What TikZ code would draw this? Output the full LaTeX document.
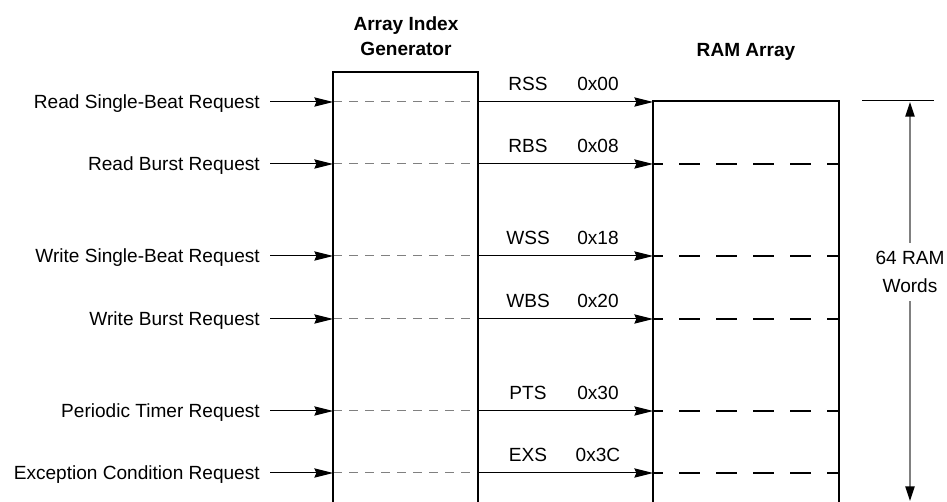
\documentclass[tikz,border=0pt]{standalone}
\usepackage{fontspec}
\setmainfont{Liberation Sans}
\usetikzlibrary{arrows.meta}

\tikzset{
  lbl/.style={inner sep=0.75pt, text height=10.2pt, text depth=0pt, font=\fontsize{14.3}{17}\selectfont},
  ttl/.style={inner sep=0.75pt, align=center, font=\fontsize{14.3}{18.75}\selectfont\bfseries},
  blockline/.style={line width=1.5pt},
  reqarrow/.style={line width=0.75pt, -{Stealth[length=14pt, width=7pt, inset=1.5pt]}},
  aigdash/.style={line width=0.75pt, color={rgb, 255:red, 128; green, 128; blue, 128}, dash pattern=on 6.75pt off 5.25pt},
  ramdash/.style={line width=1.5pt, dash pattern=on 15.75pt off 12pt, dash phase=8.25pt},
  dimline/.style={line width=1.1pt, color={rgb, 255:red, 128; green, 128; blue, 128}, -{Triangle[length=11pt, width=7pt, color=black]}}
}

\begin{document}
\begin{tikzpicture}[x=0.75pt,y=0.75pt,yscale=-1,xscale=1]
\useasboundingbox (0,0) rectangle (947,502);

% Text Node
\node [ttl, anchor=base] (aigtitle) at (406,56) {Array Index\\Generator};
% Text Node
\node [ttl, anchor=base] (ramtitle) at (746,57) {RAM Array};

%Rows
\foreach \i/\y/\req/\abbr/\addr in {1/102/Read Single-Beat Request/RSS/0x00,
    2/164/Read Burst Request/RBS/0x08,
    3/256/Write Single-Beat Request/WSS/0x18,
    4/319/Write Burst Request/WBS/0x20,
    5/411/Periodic Timer Request/PTS/0x30,
    6/473/Exception Condition Request/EXS/0x3C}{
  \coordinate (aigin\i) at (333,\y);
  \coordinate (aigout\i) at (478,\y);
  \coordinate (ramin\i) at (653,\y);
  \coordinate (ramend\i) at (839,\y);
  \node [lbl, anchor=east, inner xsep=7.5pt] (req\i) at (270,\y) {\req};
  \node [lbl, anchor=south] (abbr\i) at (528,\y-10) {\abbr};
  \node [lbl, anchor=south] (addr\i) at (598,\y-10) {\addr};
  \draw [aigdash] (aigin\i) -- (aigout\i);
  \ifnum\i>1 \draw [ramdash] (ramin\i) -- (ramend\i); \fi
  \draw [reqarrow] (req\i.east) -- (aigin\i);
  \draw [reqarrow] (aigout\i) -- (ramin\i);
}

%Shape: Blocks
\draw [blockline] (333,503) -- (333,72) -- (478,72) -- (478,503);
\draw [blockline] (653,503) -- (653,101) -- (839,101) -- (839,503);

%Dimension
\coordinate (dimhi) at (910,102);
\coordinate (dimlo) at (910,501);
\draw [line width=0.75pt] (862,101) -- (934,101);
\node [lbl, text height=, text depth=, align=center, inner ysep=6pt, font=\fontsize{14.3}{21}\selectfont] (dimlab) at (910,272) {64 RAM\\Words};
\draw [dimline] (dimlab.north) -- (dimhi);
\draw [dimline] (dimlab.south) -- (dimlo);

\end{tikzpicture}
\end{document}
